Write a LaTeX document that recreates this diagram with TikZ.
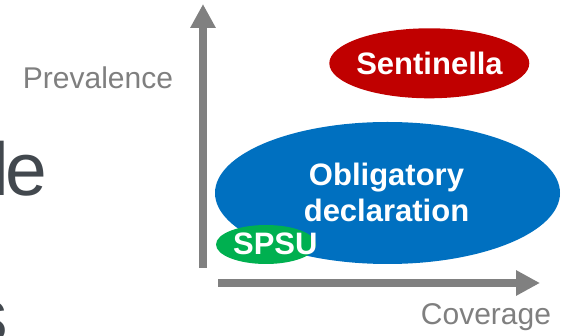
\documentclass[tikz,border=0pt]{standalone}
\usepackage{fontspec}
\setmainfont{Liberation Sans}
\usetikzlibrary{arrows.meta,shapes.geometric}
\definecolor{SENred}{HTML}{C00000}
\definecolor{OBLblue}{HTML}{0070C0}
\definecolor{SPSUgreen}{HTML}{00B050}
\definecolor{axisgray}{HTML}{808080}
\definecolor{labelgray}{HTML}{7F7F7F}
\definecolor{slidedark}{HTML}{42484E}

\begin{document}
\begin{tikzpicture}[x=1pt,y=-1pt,
  blob/.style={ellipse,inner sep=0pt,draw=none},
  blobtext/.style={text=white,font=\fontsize{31}{36.7}\selectfont\bfseries,inner sep=0pt,align=center},
  axislabel/.style={text=labelgray,font=\fontsize{30}{36}\selectfont,inner sep=0pt,anchor=base},
  slidetext/.style={text=slidedark,font=\fontsize{75}{90}\selectfont,inner sep=0pt,anchor=base east},
  axis/.style={axisgray,line width=8pt,-{Triangle[length=24pt,width=24pt]}}]
  \useasboundingbox (0,0) rectangle (566,336);
  \clip (0,0) rectangle (566,336);
  \node[slidetext] (frag1) at (47.5,196) {l\kern-3.5pt e};
  \node[slidetext] (frag2) at (8,342) {s};
  \coordinate (ybot) at (203,268);\coordinate (ytop) at (203,4);
  \coordinate (xleft) at (218,283);\coordinate (xright) at (540,283);
  \draw[axis] (ybot)--(ytop);
  \draw[axis] (xleft)--(xright);
  \node[axislabel] (prev) at (98,89) {Prevalence};
  \node[axislabel] (cov) at (486,325) {Coverage};
  \node[blob,fill=OBLblue,minimum width=345pt,minimum height=142pt] (oblig) at (387.5,193) {};
  \node[blob,fill=SPSUgreen,minimum width=100pt,minimum height=39pt] (spsu) at (266,244.5) {};
  \node[blob,fill=SENred,minimum width=200pt,minimum height=70pt] (sent) at (429.3,63.3) {};
  \node[blobtext,anchor=base] (senttext) at (429.5,74.3) {Sentinella};
  \node[blobtext] (obligtext) at (386.5,192.5) {Obligatory\\declaration};
  \node[blobtext,anchor=base] (spsutext) at (275.3,255) {SPSU};
\end{tikzpicture}
\end{document}
